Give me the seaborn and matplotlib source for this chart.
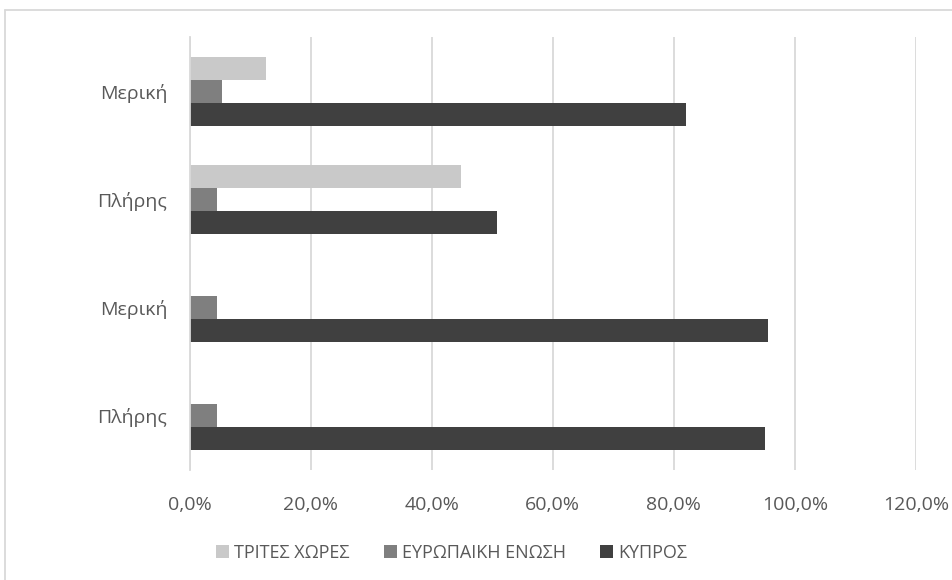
import matplotlib
matplotlib.use("Agg")
import matplotlib.pyplot as plt
import seaborn as sns
import pandas as pd
from matplotlib.lines import Line2D
from matplotlib.ticker import FuncFormatter

categories = ["Μερική", "Πλήρης", "Μερική", "Πλήρης"]  # top to bottom
series = ["ΤΡΙΤΕΣ ΧΩΡΕΣ", "ΕΥΡΩΠΑΙΚΗ ΕΝΩΣΗ", "ΚΥΠΡΟΣ"]
tritess = [12.6, 44.9, 0.1, 0.3]
eu = [5.4, 4.5, 4.5, 4.5]
kypros = [82.0, 50.8, 95.5, 95.0]
xticks = [0, 20, 40, 60, 80, 100, 120]

colors = ["#c9c9c9", "#7f7f7f", "#404040"]

rows = []
keys = [f"c{i}" for i in range(len(categories))]
for k, a, b, c in zip(keys, tritess, eu, kypros):
    rows.append((k, series[0], a))
    rows.append((k, series[1], b))
    rows.append((k, series[2], c))
df = pd.DataFrame(rows, columns=["cat", "series", "value"])

sns.set_style("white")
plt.rcParams["font.family"] = ["Open Sans", "DejaVu Sans"]

fig = plt.figure(figsize=(9.53, 5.80), dpi=100)
ax = fig.add_axes([0.199, 0.19, 0.762, 0.746])

sns.barplot(data=df, y="cat", x="value", hue="series", order=keys,
            hue_order=series, palette=colors, orient="h", width=0.64,
            gap=0, errorbar=None, saturation=1, ax=ax, linewidth=0,
            edgecolor="none")

ax.set_xlim(0, 120)
ax.set_xticks(xticks)
ax.xaxis.set_major_formatter(FuncFormatter(lambda v, p: f"{v:.1f}%".replace(".", ",")))
ax.set_yticks(range(len(categories)))
ax.set_yticklabels(categories)
ax.set_xlabel("")
ax.set_ylabel("")
ax.grid(axis="x", color="#d9d9d9", linewidth=1.3)
ax.set_axisbelow(True)
for s in ["top", "right", "bottom"]:
    ax.spines[s].set_visible(False)
ax.spines["left"].set_color("#d9d9d9")
ax.spines["left"].set_linewidth(1.3)
ax.tick_params(axis="both", length=0, colors="#595959", labelsize=14)
ax.tick_params(axis="y", pad=16)
ax.tick_params(axis="x", pad=19)

handles, labels = ax.get_legend_handles_labels()
ax.legend_.remove()
fig.legend(handles, labels, loc="center", bbox_to_anchor=(0.474, 0.047), ncol=3,
           frameon=False, fontsize=13, handlelength=0.7, handleheight=0.7,
           handletextpad=0.3, columnspacing=1.9, labelcolor="#595959")

# outer chart frame (only top and left edges visible in the reference)
x0 = 5.5 / 953
y0 = 1 - 9.5 / 580
fig.add_artist(Line2D([x0, x0], [0, y0], transform=fig.transFigure,
                      color="#d9d9d9", linewidth=1.3))
fig.add_artist(Line2D([x0, 1], [y0, y0], transform=fig.transFigure,
                      color="#d9d9d9", linewidth=1.3))

fig.savefig("out.png", dpi=100, facecolor="white")
